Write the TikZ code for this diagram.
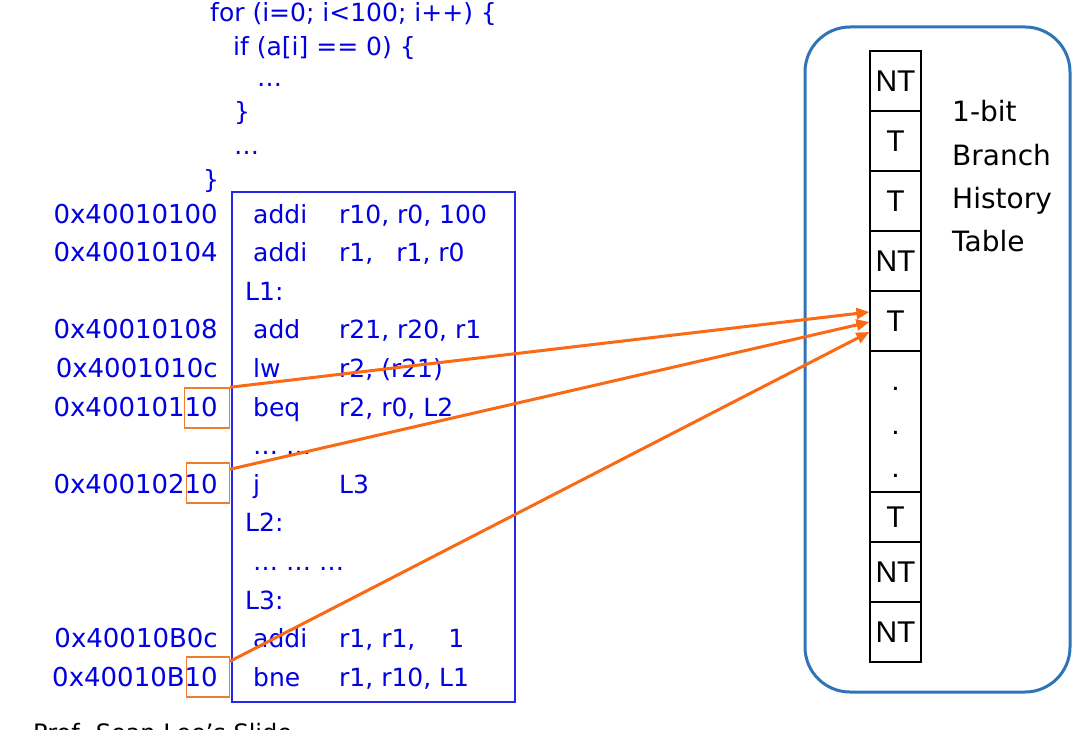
\documentclass[tikz,border=0pt]{standalone}
\usepackage{fontspec}
\setmainfont{DejaVu Sans}
\newfontfamily\cellfont{Liberation Sans}
\usetikzlibrary{arrows.meta}
\definecolor{codeblue}{RGB}{0,0,225}
\definecolor{boxblue}{RGB}{40,40,235}
\definecolor{hitorange}{RGB}{237,125,49}
\definecolor{arrorange}{RGB}{250,105,20}
\definecolor{bhtblue}{RGB}{46,117,182}
\begin{document}
\begin{tikzpicture}[x=1pt, y=-1pt,
  asm/.style={text=codeblue, inner sep=0pt, font=\fontsize{25}{30}\selectfont},
  addr/.style={asm, anchor=base east, font=\fontsize{26}{30}\selectfont},
  tag/.style={draw=hitorange, line width=1.5pt, minimum width=45pt, minimum height=40pt, anchor=east, inner sep=0pt},
  cell/.style={draw, line width=1.2pt, minimum width=51pt, inner sep=0pt, font=\cellfont\fontsize{30}{30}\selectfont},
  hitarrow/.style={arrorange, line width=3pt, -{Triangle[length=13pt,width=11pt]}}]
  \useasboundingbox (0,0) rectangle (1091,730);
  % C source
  \node[asm, anchor=base west] (for) at (210,22) {for (i=0; i<100; i++) \{};
  \node[asm, anchor=base west] (if) at (233,56) {if (a[i] == 0) \{};
  \node[asm, anchor=base west] (body) at (257,87) {…};
  \node[asm, anchor=base west] (ifend) at (234,121) {\}};
  \node[asm, anchor=base west] (rest) at (234,155) {…};
  \node[asm, anchor=base west] (forend) at (203,188) {\}};
  % Assembly listing
  \node[draw=boxblue, line width=1.5pt, minimum width=283pt, minimum height=510pt, inner sep=0pt] (prog) at (373.5,447) {};
  \foreach \k/\adr/\op/\arg in {0/0x40010100/addi/{r10, r0, 100}, 1/0x40010104/addi/{r1,\hspace{23pt}r1, r0}, 3/0x40010108/add/{r21, r20, r1}, 4/0x4001010c/lw/{r2, (r21)}, 5/0x40010110/beq/{r2, r0, L2}, 7/0x40010210/j/L3, 11/0x40010B0c/addi/{r1, r1,\hspace{33pt}1}, 12/0x40010B10/bne/{r1, r10, L1}} {
    \node[addr] (a\k) at (218,{223+38.6*\k}) {\adr};
    \node[asm, anchor=base west] (m\k) at (253,{223+38.6*\k}) {\op};
    \node[asm, anchor=base west] (o\k) at (339,{223+38.6*\k}) {\arg};
  }
  \node[asm, anchor=base west] (l1) at (245,300.2) {L1:};
  \node[asm, anchor=base west] (gap1) at (253,454.6) {… …};
  \node[asm, anchor=base west] (l2) at (245,531.8) {L2:};
  \node[asm, anchor=base west] (gap2) at (253,570.4) {… … …};
  \node[asm, anchor=base west] (l3) at (245,609) {L3:};
  % low address bits
  \node[tag] (h1) at (230,408) {};
  \node[tag, minimum width=43pt] (h2) at (230,483) {};
  \node[tag, minimum width=43pt] (h3) at (230,677) {};
  % Branch history table
  \node[draw=bhtblue, line width=3pt, rounded corners=45pt, minimum width=265pt, minimum height=665pt] (bht) at (937.5,359.5) {};
  \foreach \lab/\y/\h [count=\i] in {NT/81/60, T/141/60, T/201/60, NT/261/60, T/321/60, {}/421.5/141, T/517/50, NT/572/60, NT/632/60}
    \node[cell, minimum height=\h] (c\i) at (895.5,\y) {\lab};
  \foreach \y [count=\i] in {390,434,477}
    \node[anchor=base, inner sep=0pt, font=\cellfont\fontsize{30}{30}\selectfont] (dot\i) at (895.5,\y) {.};
  \foreach \w/\y [count=\i] in {1-bit/122, Branch/165, History/208, Table/251}
    \node[anchor=base west, inner sep=0pt, font=\fontsize{28}{30}\selectfont] (cap\i) at (952,\y) {\w};
  % Index arrows
  \draw[hitarrow] (h1.north east) -- ([yshift=9pt]c5.west);
  \draw[hitarrow] ([yshift=-7pt]h2.north east) -- ([yshift=-1pt]c5.west);
  \draw[hitarrow] ([yshift=-5pt]h3.north east) -- ([yshift=-11pt]c5.west);
  \node[anchor=base west, inner sep=0pt, font=\fontsize{24}{28}\selectfont] (credit) at (33,741) {Prof. Sean Lee’s Slide};
\end{tikzpicture}
\end{document}
